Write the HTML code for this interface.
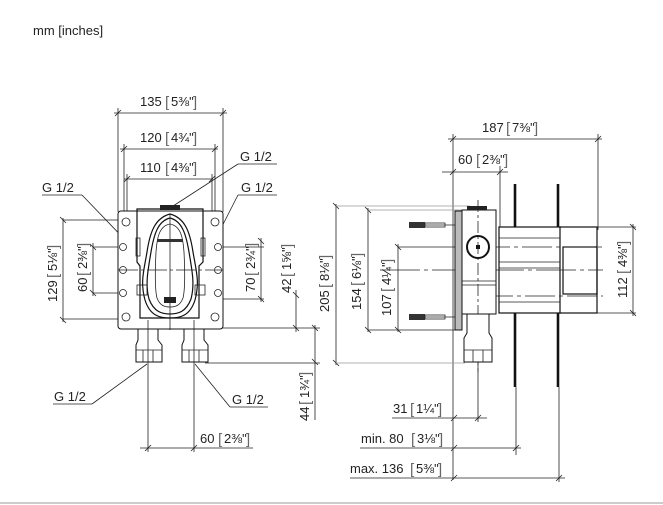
<!DOCTYPE html>
<html><head><meta charset="utf-8">
<style>
html,body{margin:0;padding:0;background:#fff;}
svg{display:block;}
text{font-family:"Liberation Sans",sans-serif;font-size:13px;fill:#222;}
.t{stroke:#222;stroke-width:0.8;fill:none;}
.g{stroke:#999;stroke-width:0.7;fill:none;}
.k{stroke:#111;stroke-width:1.2;fill:none;}
.kk{stroke:#111;stroke-width:2.6;fill:none;}
.f{fill:#fff;stroke:#111;stroke-width:1;}
.br{fill:#666;}
</style></head>
<body>
<svg width="663" height="505" viewBox="0 0 663 505" xmlns="http://www.w3.org/2000/svg">
<text x="33" y="35">mm [inches]</text>
<line x1="0" y1="503" x2="663" y2="503" stroke="#ccc" stroke-width="2"/>

<g class="t">
<line x1="114" y1="113" x2="227" y2="113"/><line x1="115" y1="116" x2="121" y2="110"/><line x1="220" y1="116" x2="226" y2="110"/>
<line x1="118" y1="108" x2="118" y2="212"/><line x1="223" y1="108" x2="223" y2="212"/>
<line x1="120" y1="149" x2="218" y2="149"/><line x1="121" y1="152" x2="127" y2="146"/><line x1="212" y1="152" x2="218" y2="146"/>
<line x1="124" y1="144" x2="124" y2="212"/><line x1="215" y1="144" x2="215" y2="212"/>
<line x1="124" y1="179" x2="213" y2="179"/><line x1="124" y1="182" x2="130" y2="176"/><line x1="209" y1="182" x2="215" y2="176"/>
<line x1="127" y1="174" x2="127" y2="212"/><line x1="212" y1="174" x2="212" y2="212"/>
</g>
<text x="140" y="106">135</text><text x="165" y="107" class="br" style="font-size:15px">[</text><text x="171" y="106">5⅜"</text><text x="193" y="107" class="br" style="font-size:15px">]</text>
<text x="140" y="142">120</text><text x="165" y="143" class="br" style="font-size:15px">[</text><text x="171" y="142">4¾"</text><text x="193" y="143" class="br" style="font-size:15px">]</text>
<text x="140" y="172">110</text><text x="165" y="173" class="br" style="font-size:15px">[</text><text x="171" y="172">4⅜"</text><text x="193" y="173" class="br" style="font-size:15px">]</text>

<text x="240" y="161">G 1/2</text>
<line class="t" x1="238" y1="164" x2="277" y2="164"/><line class="t" x1="238" y1="164" x2="170" y2="208"/>
<text x="241" y="192">G 1/2</text>
<line class="t" x1="238" y1="195" x2="277" y2="195"/><line class="t" x1="238" y1="195" x2="212" y2="246"/>
<text x="42" y="192">G 1/2</text>
<line class="t" x1="42" y1="195" x2="82" y2="195"/><line class="t" x1="82" y1="195" x2="131" y2="246"/>

<g class="t">
<line x1="63" y1="218" x2="63" y2="322"/><line x1="60" y1="217" x2="66" y2="223"/><line x1="60" y1="317" x2="66" y2="323"/>
<line x1="63" y1="220" x2="122" y2="220"/><line x1="63" y1="319" x2="122" y2="319"/>
<line x1="93" y1="243" x2="93" y2="296"/><line x1="90" y1="244" x2="96" y2="250"/><line x1="90" y1="290" x2="96" y2="296"/>
<line x1="93" y1="247" x2="180" y2="247"/><line x1="93" y1="293" x2="125" y2="293"/>
<line x1="261" y1="238" x2="261" y2="302"/><line x1="258" y1="238" x2="264" y2="244"/><line x1="258" y1="296" x2="264" y2="302"/>
<line x1="160" y1="247" x2="264" y2="247"/><line x1="205" y1="299" x2="264" y2="299"/>
<line x1="296" y1="290" x2="296" y2="332"/><line x1="293" y1="292" x2="299" y2="298"/><line x1="293" y1="325" x2="299" y2="331"/>
<line x1="218" y1="328" x2="320" y2="328"/>
<line x1="315" y1="325" x2="315" y2="420"/><line x1="312" y1="325" x2="318" y2="331"/><line x1="312" y1="359" x2="318" y2="365"/>
<line x1="205" y1="363" x2="320" y2="363"/>
</g>
<text transform="translate(57,302) rotate(-90)">129</text><text transform="translate(58,278) rotate(-90)" class="br" style="font-size:15px">[</text><text transform="translate(57,271) rotate(-90)">5⅛"</text><text transform="translate(58,249) rotate(-90)" class="br" style="font-size:15px">]</text>
<text transform="translate(87,292) rotate(-90)">60</text><text transform="translate(88,276) rotate(-90)" class="br" style="font-size:15px">[</text><text transform="translate(87,269) rotate(-90)">2⅜"</text><text transform="translate(88,247) rotate(-90)" class="br" style="font-size:15px">]</text>
<text transform="translate(255,292) rotate(-90)">70</text><text transform="translate(256,276) rotate(-90)" class="br" style="font-size:15px">[</text><text transform="translate(255,269) rotate(-90)">2¾"</text><text transform="translate(256,247) rotate(-90)" class="br" style="font-size:15px">]</text>
<text transform="translate(291,293) rotate(-90)">42</text><text transform="translate(292,277) rotate(-90)" class="br" style="font-size:15px">[</text><text transform="translate(291,270) rotate(-90)">1⅝"</text><text transform="translate(292,248) rotate(-90)" class="br" style="font-size:15px">]</text>
<text transform="translate(309,421) rotate(-90)">44</text><text transform="translate(310,405) rotate(-90)" class="br" style="font-size:15px">[</text><text transform="translate(309,398) rotate(-90)">1¾"</text><text transform="translate(310,376) rotate(-90)" class="br" style="font-size:15px">]</text>

<rect class="f" x="118" y="211" width="105" height="118" rx="3"/>
<path class="k" d="M137 209 H203 V262 L199 266 V318 H140 V266 L137 262 Z"/>
<rect x="160" y="205" width="20" height="5" fill="#222"/>
<path class="k" d="M170 214 C155 218 150 232 147 252 C144 270 140 282 145 300 C150 316 160 318 170 318 C180 318 190 316 195 300 C200 282 196 270 193 252 C190 232 185 218 170 214 Z" stroke-width="3.5"/>
<path class="k" d="M170 218 C158 221 154 234 151 252 C148 270 145 284 149 299 C154 312 162 314 170 314 C178 314 186 312 191 299 C195 284 192 270 189 252 C186 234 182 221 170 218 Z" stroke-width="1.2"/>
<path class="t" d="M170 224 C159 226 157 238 156 252 C155 272 155 290 157 298 C160 306 165 307 170 307 C175 307 180 306 183 298 C185 290 185 272 184 252 C183 238 181 226 170 224 Z"/>
<line class="t" x1="170" y1="214" x2="170" y2="330"/>
<line class="t" x1="118" y1="270" x2="223" y2="270" stroke-dasharray="20 3 3 3"/>
<rect x="164" y="297" width="12" height="6" fill="#222"/>
<rect x="157" y="239" width="26" height="3" fill="#333"/>
<g class="t">
<circle cx="126" cy="222" r="4"/><circle cx="215" cy="222" r="4"/><circle cx="126" cy="317" r="4"/><circle cx="215" cy="317" r="4"/>
<circle cx="123" cy="247" r="3.5"/><circle cx="218" cy="247" r="3.5"/><circle cx="123" cy="270" r="3.5"/><circle cx="218" cy="270" r="3.5"/><circle cx="123" cy="293" r="3.5"/><circle cx="218" cy="293" r="3.5"/>
<rect x="136" y="238" width="4" height="18"/><rect x="201" y="238" width="4" height="18"/>
<rect x="137" y="285" width="10" height="10"/><rect x="195" y="285" width="10" height="10"/>
</g>
<g>
<path class="f" d="M138 329 H158 V340 L162 345 V362 H136 V345 L138 340 Z"/>
<path class="f" d="M184 329 H204 V340 L208 345 V362 H182 V345 L184 340 Z"/>
<line class="t" x1="136" y1="350" x2="162" y2="350"/><line class="t" x1="182" y1="350" x2="208" y2="350"/>
<line class="t" x1="143" y1="350" x2="143" y2="362"/><line class="t" x1="153" y1="350" x2="153" y2="362"/>
<line class="t" x1="189" y1="350" x2="189" y2="362"/><line class="t" x1="199" y1="350" x2="199" y2="362"/>
</g>
<g class="t">
<line x1="148" y1="320" x2="148" y2="452"/><line x1="194" y1="320" x2="194" y2="452"/>
<line x1="140" y1="448" x2="253" y2="448"/><line x1="145" y1="451" x2="151" y2="445"/><line x1="191" y1="451" x2="197" y2="445"/>
<line x1="53" y1="404" x2="92" y2="404"/><line x1="92" y1="404" x2="147" y2="364"/>
<line x1="230" y1="407" x2="268" y2="407"/><line x1="230" y1="407" x2="195" y2="364"/>
</g>
<text x="54" y="401">G 1/2</text><text x="232" y="404">G 1/2</text>
<text x="200" y="443">60</text><text x="218" y="444" class="br" style="font-size:15px">[</text><text x="224" y="443">2⅜"</text><text x="246" y="444" class="br" style="font-size:15px">]</text>

<g class="t">
<line x1="448" y1="139" x2="602" y2="139"/><line x1="450" y1="142" x2="456" y2="136"/><line x1="595" y1="142" x2="601" y2="136"/>
<line x1="453" y1="134" x2="453" y2="480"/><line x1="598" y1="134" x2="598" y2="230"/>
<line x1="442" y1="172" x2="508" y2="172"/><line x1="450" y1="175" x2="456" y2="169"/><line x1="497" y1="175" x2="503" y2="169"/>
<line x1="500" y1="166" x2="500" y2="230"/>
<line x1="336" y1="204" x2="336" y2="365"/><line x1="333" y1="203" x2="339" y2="209"/><line x1="333" y1="360" x2="339" y2="366"/>
<line x1="368" y1="208" x2="368" y2="332"/><line x1="365" y1="207" x2="371" y2="213"/><line x1="365" y1="327" x2="371" y2="333"/>
<line x1="398" y1="244" x2="398" y2="332"/><line x1="395" y1="244" x2="401" y2="250"/><line x1="395" y1="327" x2="401" y2="333"/>
<line x1="398" y1="247" x2="478" y2="247"/><line x1="368" y1="330" x2="458" y2="330"/>
<line x1="633" y1="224" x2="633" y2="316"/><line x1="630" y1="224" x2="636" y2="230"/><line x1="630" y1="310" x2="636" y2="316"/>
<line x1="597" y1="227" x2="636" y2="227"/><line x1="597" y1="313" x2="636" y2="313"/>
</g>
<g class="g"><line x1="336" y1="206" x2="470" y2="206"/><line x1="368" y1="210" x2="462" y2="210"/><line x1="336" y1="363" x2="465" y2="363"/></g>
<text x="482" y="132">187</text><text x="506" y="133" class="br" style="font-size:15px">[</text><text x="512" y="132">7⅜"</text><text x="534" y="133" class="br" style="font-size:15px">]</text>
<text x="458" y="164">60</text><text x="476" y="165" class="br" style="font-size:15px">[</text><text x="482" y="164">2⅜"</text><text x="504" y="165" class="br" style="font-size:15px">]</text>
<text transform="translate(329,312) rotate(-90)">205</text><text transform="translate(330,288) rotate(-90)" class="br" style="font-size:15px">[</text><text transform="translate(329,281) rotate(-90)">8⅛"</text><text transform="translate(330,259) rotate(-90)" class="br" style="font-size:15px">]</text>
<text transform="translate(361,310) rotate(-90)">154</text><text transform="translate(362,286) rotate(-90)" class="br" style="font-size:15px">[</text><text transform="translate(361,279) rotate(-90)">6⅛"</text><text transform="translate(362,257) rotate(-90)" class="br" style="font-size:15px">]</text>
<text transform="translate(391,316) rotate(-90)">107</text><text transform="translate(392,292) rotate(-90)" class="br" style="font-size:15px">[</text><text transform="translate(391,285) rotate(-90)">4¼"</text><text transform="translate(392,263) rotate(-90)" class="br" style="font-size:15px">]</text>
<text transform="translate(627,298) rotate(-90)">112</text><text transform="translate(628,274) rotate(-90)" class="br" style="font-size:15px">[</text><text transform="translate(627,267) rotate(-90)">4⅜"</text><text transform="translate(628,245) rotate(-90)" class="br" style="font-size:15px">]</text>

<line class="kk" x1="515" y1="184" x2="515" y2="387"/><line class="kk" x1="558" y1="184" x2="558" y2="387"/>
<line class="t" x1="516" y1="387" x2="516" y2="455"/><line class="t" x1="559" y1="387" x2="559" y2="482"/>
<g class="k">
<rect x="499" y="227" width="62" height="86" fill="#fff"/>
<rect x="560" y="227" width="37" height="86" fill="#fff"/>
<rect x="563" y="247" width="34" height="47"/>
</g>
<g class="t"><line x1="499" y1="238" x2="560" y2="238"/><line x1="499" y1="262" x2="560" y2="262"/><line x1="499" y1="268" x2="560" y2="268"/><line x1="499" y1="302" x2="560" y2="302"/>
<line x1="380" y1="270" x2="603" y2="270" stroke-dasharray="40 4 4 4"/><line x1="480" y1="247" x2="603" y2="247" stroke-dasharray="30 4 4 4"/><line x1="483" y1="296" x2="603" y2="296" stroke-dasharray="30 4 4 4"/></g>
<rect x="455" y="211" width="7" height="119" fill="#bbb" stroke="#111" stroke-width="1"/>
<rect class="f" x="462" y="210" width="34" height="104"/>
<rect x="467" y="206" width="20" height="4" fill="#222"/>
<line class="t" x1="462" y1="281" x2="496" y2="281"/><line class="t" x1="462" y1="285" x2="496" y2="285"/>
<circle cx="478" cy="247" r="11" fill="#fff" stroke="#111" stroke-width="2"/>
<rect x="476" y="245" width="4" height="4" fill="#111"/>
<line class="t" x1="478" y1="200" x2="478" y2="372" stroke-dasharray="12 3 3 3"/>
<g><rect x="409" y="222" width="16" height="6" fill="#333"/><line class="t" x1="425" y1="225" x2="455" y2="225"/><rect x="425" y="223" width="20" height="4" fill="none" stroke="#222" stroke-width="0.8"/>
<rect x="409" y="314" width="16" height="6" fill="#333"/><line class="t" x1="425" y1="317" x2="455" y2="317"/><rect x="425" y="315" width="20" height="4" fill="none" stroke="#222" stroke-width="0.8"/></g>
<path class="f" d="M467 314 H489 V333 L492 338 V362 H464 V338 L467 333 Z"/>
<line class="t" x1="464" y1="350" x2="492" y2="350"/><line class="t" x1="473" y1="350" x2="473" y2="362"/><line class="t" x1="483" y1="350" x2="483" y2="362"/>

<g class="t">
<line x1="392" y1="418" x2="487" y2="418"/><line x1="451" y1="421" x2="457" y2="415"/><line x1="475" y1="421" x2="481" y2="415"/>
<line x1="478" y1="362" x2="478" y2="422"/>
<line x1="360" y1="448" x2="521" y2="448"/><line x1="451" y1="451" x2="457" y2="445"/><line x1="513" y1="451" x2="519" y2="445"/>
<line x1="350" y1="478" x2="565" y2="478"/><line x1="451" y1="481" x2="457" y2="475"/><line x1="556" y1="481" x2="562" y2="475"/>
</g>
<text x="393" y="413">31</text><text x="410" y="414" class="br" style="font-size:15px">[</text><text x="416" y="413">1¼"</text><text x="438" y="414" class="br" style="font-size:15px">]</text>
<text x="361" y="443">min. 80</text><text x="411" y="444" class="br" style="font-size:15px">[</text><text x="417" y="443">3⅛"</text><text x="439" y="444" class="br" style="font-size:15px">]</text>
<text x="350" y="473">max. 136</text><text x="410" y="474" class="br" style="font-size:15px">[</text><text x="416" y="473">5⅜"</text><text x="438" y="474" class="br" style="font-size:15px">]</text>
</svg>
</body></html>
